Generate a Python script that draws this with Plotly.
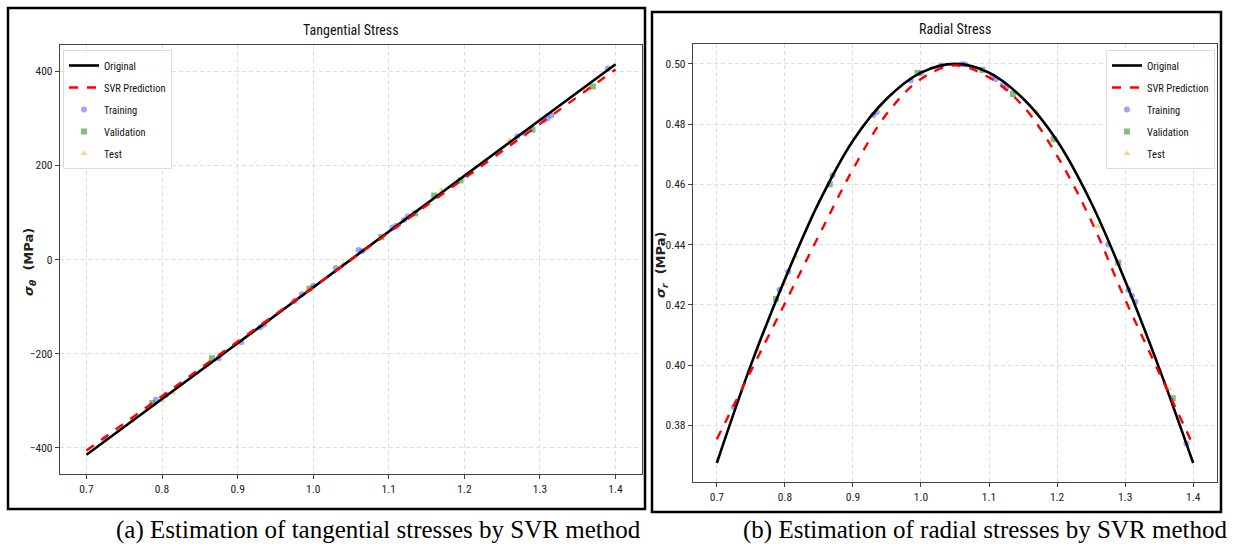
import plotly.graph_objects as go

# ---------------- data ----------------
# Tangential stress (panel a)
tan_orig_r = [0.70, 1.40]
tan_orig_s = [-415, 415]
tan_svr_r = [0.70, 1.40]
tan_svr_s = [-406, 404]

tan_train_r = [0.725, 0.792, 0.805, 0.875, 0.905, 0.930, 0.935, 0.975, 0.985, 1.000, 1.030,
               1.060, 1.065, 1.105, 1.110, 1.120, 1.125, 1.270, 1.280, 1.305, 1.310, 1.315, 1.390]
tan_train_s = [-380, -298, -288, -210, -176, -144, -138, -88, -74, -56, -18,
               20, 18, 68, 72, 84, 92, 262, 268, 296, 300, 306, 406]
tan_val_r = [0.787, 0.866, 0.995, 1.090, 1.135, 1.160, 1.195, 1.290, 1.370]
tan_val_s = [-305, -210, -62, 48, 98, 136, 168, 276, 368]
tan_test_r = [0.760, 0.800, 0.815, 0.940, 1.040, 1.170, 1.260, 1.365]
tan_test_s = [-342, -300, -284, -130, -8, 148, 254, 364]

# Radial stress (panel b)
rad_r = [0.70, 0.75, 0.80, 0.85, 0.90, 0.95, 1.00, 1.05, 1.10, 1.15, 1.20, 1.25, 1.30, 1.35, 1.40]
rad_orig = [0.3675, 0.4000, 0.4285, 0.4540, 0.4745, 0.4885, 0.4971, 0.5000,
            0.4971, 0.4885, 0.4745, 0.4540, 0.4280, 0.3990, 0.3675]
rad_svr = [0.3754, 0.3980, 0.4205, 0.4430, 0.4650, 0.4835, 0.4950, 0.4995,
           0.4955, 0.4860, 0.4695, 0.4480, 0.4218, 0.3975, 0.3734]

rad_train_r = [0.725, 0.792, 0.805, 0.870, 0.930, 0.935, 0.985, 1.000, 1.030, 1.060, 1.065,
               1.105, 1.110, 1.120, 1.125, 1.275, 1.305, 1.310, 1.315, 1.390]
rad_train_s = [0.386, 0.425, 0.431, 0.463, 0.483, 0.484, 0.4945, 0.497, 0.4995, 0.4999, 0.4998,
               0.496, 0.495, 0.493, 0.492, 0.440, 0.425, 0.423, 0.421, 0.374]
rad_val_r = [0.787, 0.866, 0.995, 1.090, 1.135, 1.195, 1.290, 1.370]
rad_val_s = [0.422, 0.460, 0.497, 0.498, 0.490, 0.475, 0.434, 0.389]
rad_test_r = [0.760, 0.800, 0.816, 0.940, 1.170, 1.260, 1.365]
rad_test_s = [0.405, 0.427, 0.436, 0.486, 0.484, 0.446, 0.392]

x_ticks = [0.7, 0.8, 0.9, 1.0, 1.1, 1.2, 1.3, 1.4]
tan_y_ticks = [-400, -200, 0, 200, 400]
rad_y_ticks = [0.38, 0.40, 0.42, 0.44, 0.46, 0.48, 0.50]

# ---------------- figure ----------------
W, H = 1255, 546
NARROW = "Liberation Sans Narrow, Roboto Condensed, Roboto, sans-serif"
TICKFONT = dict(family=NARROW, size=11.5, color="#222")

def px(x):
    return x / W

def py(y):
    return 1 - y / H

fig = go.Figure()

BLUE = "rgba(70,70,255,0.5)"
GREEN = "rgba(0,128,0,0.5)"
ORANGE = "rgba(255,165,0,0.5)"

def add_panel(xa, ya, leg, orr, ors, svr_r, svr_s, trr, trs, var, vas, ter, tes, spline):
    shape = "spline" if spline else "linear"
    fig.add_trace(go.Scatter(x=trr, y=trs, mode="markers", name="Training",
                             marker=dict(symbol="circle", size=6, color=BLUE),
                             xaxis=xa, yaxis=ya, legend=leg, legendrank=3, legendgroup="tr" + leg))
    fig.add_trace(go.Scatter(x=var, y=vas, mode="markers", name="Validation",
                             marker=dict(symbol="square", size=6, color=GREEN),
                             xaxis=xa, yaxis=ya, legend=leg, legendrank=4, legendgroup="va" + leg))
    fig.add_trace(go.Scatter(x=ter, y=tes, mode="markers", name="Test",
                             marker=dict(symbol="triangle-up", size=6, color=ORANGE),
                             xaxis=xa, yaxis=ya, legend=leg, legendrank=5, legendgroup="te" + leg))
    fig.add_trace(go.Scatter(x=orr, y=ors, mode="lines", name="Original",
                             line=dict(color="black", width=2.6, shape=shape, smoothing=1.0),
                             xaxis=xa, yaxis=ya, legend=leg, legendrank=1, legendgroup="or" + leg))
    fig.add_trace(go.Scatter(x=svr_r, y=svr_s, mode="lines", name="SVR Prediction",
                             line=dict(color="red", width=2.4, dash="dash", shape=shape, smoothing=1.0),
                             xaxis=xa, yaxis=ya, legend=leg, legendrank=2, legendgroup="sv" + leg))

add_panel("x", "y", "legend", tan_orig_r, tan_orig_s, tan_svr_r, tan_svr_s,
          tan_train_r, tan_train_s, tan_val_r, tan_val_s, tan_test_r, tan_test_s, False)
add_panel("x2", "y2", "legend2", rad_r, rad_orig, rad_r, rad_svr,
          rad_train_r, rad_train_s, rad_val_r, rad_val_s, rad_test_r, rad_test_s, True)

axis_common = dict(showgrid=True, gridcolor="#dedede", griddash="4px,3px", gridwidth=1,
                   showline=True, linecolor="#444", linewidth=1.3, mirror=True,
                   ticks="outside", ticklen=4, tickcolor="#444", tickfont=TICKFONT,
                   zeroline=False)

legend_common = dict(bgcolor="rgba(255,255,255,0.85)", bordercolor="#dddddd", borderwidth=1,
                     font=dict(family=NARROW, size=10.5, color="#111"),
                     traceorder="grouped", tracegroupgap=3, itemwidth=30)

fig.update_layout(
    width=W, height=H,
    margin=dict(l=0, r=0, t=0, b=0),
    paper_bgcolor="white", plot_bgcolor="white",
    showlegend=True,
    xaxis=dict(domain=[px(60), px(642)], range=[0.665, 1.435], tickvals=x_ticks,
               tickformat=".1f", anchor="y", **axis_common),
    yaxis=dict(domain=[py(474), py(45)], range=[-456, 456], tickvals=tan_y_ticks,
               anchor="x", **axis_common),
    xaxis2=dict(domain=[px(693), px(1217)], range=[0.665, 1.435], tickvals=x_ticks,
                tickformat=".1f", anchor="y2", **axis_common),
    yaxis2=dict(domain=[py(482), py(44)], range=[0.3612, 0.5066], tickvals=rad_y_ticks,
                tickformat=".2f", anchor="x2", **axis_common),
    legend=dict(x=px(63), y=py(50), xanchor="left", yanchor="top", **legend_common),
    legend2=dict(x=px(1215), y=py(50), xanchor="right", yanchor="top", **legend_common),
)

# outer frames
fig.add_shape(type="rect", xref="paper", yref="paper", x0=px(8), x1=px(645), y0=py(509), y1=py(8),
              line=dict(color="black", width=2.5), layer="above")
fig.add_shape(type="rect", xref="paper", yref="paper", x0=px(652), x1=px(1221), y0=py(512), y1=py(12),
              line=dict(color="black", width=2.5), layer="above")

TITLEFONT = dict(family=NARROW, size=14, color="#111")
fig.add_annotation(text="Tangential Stress", x=px(351), y=py(30), xref="paper", yref="paper",
                   xanchor="center", yanchor="middle", showarrow=False, font=TITLEFONT)
fig.add_annotation(text="Radial Stress", x=px(955), y=py(29), xref="paper", yref="paper",
                   xanchor="center", yanchor="middle", showarrow=False, font=TITLEFONT)

YLFONT = dict(family="DejaVu Sans, sans-serif", size=13, color="#222")
fig.add_annotation(text="<b><i>σ<sub>θ</sub></i>  (MPa)</b>", x=px(29), y=py(262), xref="paper", yref="paper",
                   xanchor="center", yanchor="middle", showarrow=False, textangle=-90, font=YLFONT)
fig.add_annotation(text="<b><i>σ<sub>r</sub></i>  (MPa)</b>", x=px(661), y=py(265), xref="paper", yref="paper",
                   xanchor="center", yanchor="middle", showarrow=False, textangle=-90, font=YLFONT)

CAPFONT = dict(family="Liberation Serif, Times New Roman, serif", size=25, color="black")
fig.add_annotation(text="(a) Estimation of tangential stresses by SVR method", x=px(378), y=py(530),
                   xref="paper", yref="paper", xanchor="center", yanchor="middle",
                   showarrow=False, font=CAPFONT)
fig.add_annotation(text="(b) Estimation of radial stresses by SVR method", x=px(985), y=py(530),
                   xref="paper", yref="paper", xanchor="center", yanchor="middle",
                   showarrow=False, font=CAPFONT)

fig.write_html("out.html")
